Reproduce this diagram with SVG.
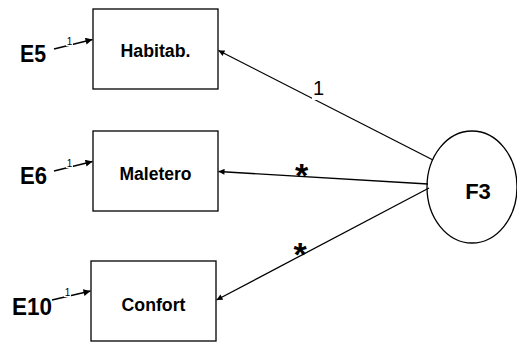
<svg xmlns="http://www.w3.org/2000/svg" width="517" height="342" viewBox="0 0 517 342">
  <style>
    .box { fill: #fff; stroke: #000; stroke-width: 1.3; }
    .lat { fill: #fff; stroke: #000; stroke-width: 1.3; }
    .conn { fill: none; stroke: #000; stroke-width: 1.3; }
    .err { fill: none; stroke: #000; stroke-width: 1.4; }
    .var { font-family: "Liberation Sans", Arial, sans-serif; font-weight: bold; font-size: 18px; fill: #000; text-anchor: middle; }
    .evar { font-family: "Liberation Sans", Arial, sans-serif; font-weight: bold; font-size: 24px; fill: #000; }
    .fvar { font-family: "Liberation Sans", Arial, sans-serif; font-weight: bold; font-size: 22px; fill: #000; text-anchor: middle; }
    .one { font-family: "Liberation Sans", Arial, sans-serif; font-size: 10px; fill: #000; text-anchor: middle; }
    .load { font-family: "Liberation Sans", Arial, sans-serif; font-size: 20px; fill: #000; text-anchor: middle; }
    .star { font-family: "Liberation Sans", Arial, sans-serif; font-weight: bold; font-size: 34px; fill: #000; text-anchor: middle; }
  </style>
  <defs>
    <marker id="ah" viewBox="0 0 10 10" refX="10" refY="5" markerWidth="8" markerHeight="6" markerUnits="userSpaceOnUse" orient="auto">
      <path d="M0,0 L10,5 L0,10 z" fill="#000"/>
    </marker>
    <marker id="ahs" viewBox="0 0 10 10" refX="10" refY="5" markerWidth="9" markerHeight="7" markerUnits="userSpaceOnUse" orient="auto">
      <path d="M0,0 L10,5 L0,10 z" fill="#000"/>
    </marker>
  </defs>

  <!-- observed variables -->
  <g id="habitab">
    <rect class="box" x="93" y="9" width="125" height="80"/>
    <text class="var" x="155.5" y="57" textLength="70" lengthAdjust="spacingAndGlyphs">Habitab.</text>
  </g>
  <g id="maletero">
    <rect class="box" x="93" y="131" width="125" height="80"/>
    <text class="var" x="155.5" y="180" textLength="72" lengthAdjust="spacingAndGlyphs">Maletero</text>
  </g>
  <g id="confort">
    <rect class="box" x="91" y="261" width="125" height="80"/>
    <text class="var" x="153.5" y="311" textLength="64" lengthAdjust="spacingAndGlyphs">Confort</text>
  </g>

  <!-- latent factor -->
  <g id="f3">
    <ellipse class="lat" cx="472" cy="187" rx="45" ry="56"/>
    <text class="fvar" x="478" y="199">F3</text>
  </g>

  <!-- error terms -->
  <g id="e5">
    <text class="evar" x="20" y="62" textLength="26" lengthAdjust="spacingAndGlyphs">E5</text>
  </g>
  <g id="e6">
    <text class="evar" x="20" y="184" textLength="27" lengthAdjust="spacingAndGlyphs">E6</text>
  </g>
  <g id="e10">
    <text class="evar" x="12" y="315" textLength="40" lengthAdjust="spacingAndGlyphs">E10</text>
  </g>

  <g id="connectors">
    <!-- error paths -->
    <line class="err" x1="54" y1="49" x2="92.5" y2="39.5" marker-end="url(#ahs)"/>
    <rect x="66" y="37" width="7" height="9" fill="#fff"/>
    <text class="one" x="69.5" y="45">1</text>

    <line class="err" x1="54" y1="171" x2="92.5" y2="161.5" marker-end="url(#ahs)"/>
    <rect x="66" y="159" width="7" height="9" fill="#fff"/>
    <text class="one" x="69.5" y="167">1</text>

    <line class="err" x1="52" y1="300" x2="90.5" y2="291" marker-end="url(#ahs)"/>
    <rect x="64" y="288" width="7" height="9" fill="#fff"/>
    <text class="one" x="67.5" y="296">1</text>

    <!-- factor loadings -->
    <line class="conn" x1="433" y1="160" x2="218.5" y2="50.5" marker-end="url(#ah)"/>
    <rect x="312" y="80" width="8" height="20" fill="#fff"/>
    <text class="load" x="318.5" y="95">1</text>

    <line class="conn" x1="428" y1="184" x2="218.5" y2="171.5" marker-end="url(#ah)"/>
    <text class="star" x="301.5" y="187">*</text>

    <line class="conn" x1="429" y1="188" x2="216.5" y2="300" marker-end="url(#ah)"/>
    <text class="star" x="300" y="266">*</text>
  </g>
</svg>
